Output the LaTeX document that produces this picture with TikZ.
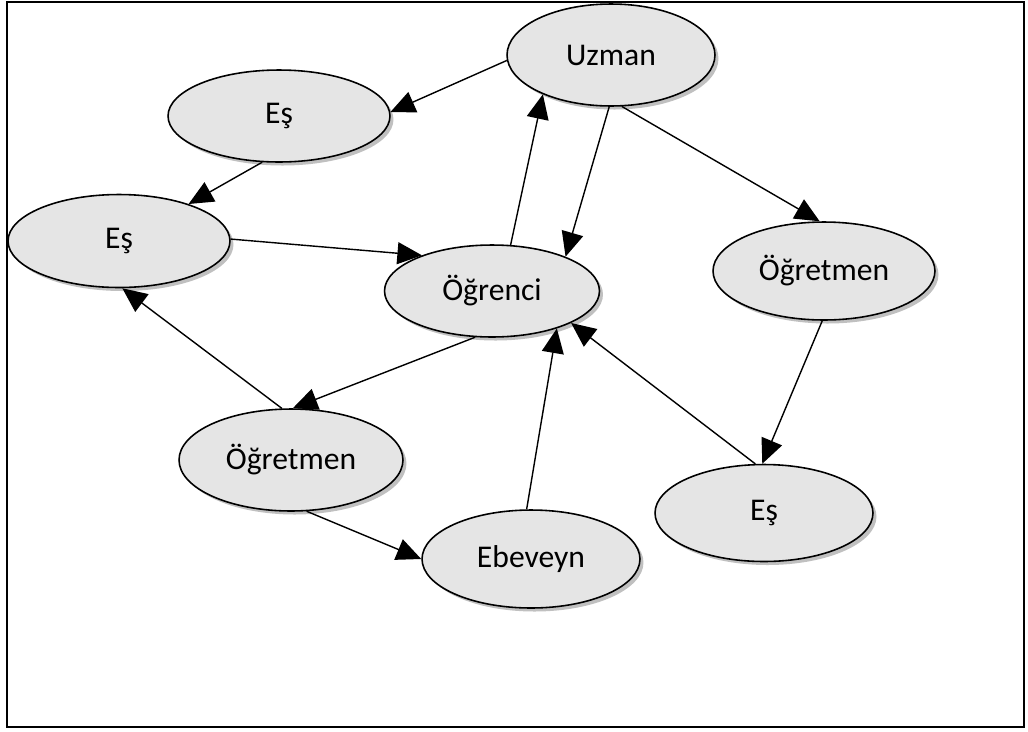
\documentclass[tikz,border=0pt]{standalone}
\usepackage{fontspec}
\setmainfont{Carlito}
\usetikzlibrary{arrows.meta,shapes.geometric,shadows}

\begin{document}
\begin{tikzpicture}[x=0.02cm,y=-0.02cm,>={Triangle[length=14pt,width=12.5pt]},
    bubble/.style={ellipse, draw, line width=0.9pt, fill=black!10, inner sep=0pt,
      minimum width=4.4cm, minimum height=1.92cm,
      drop shadow={shadow xshift=2pt, shadow yshift=-2pt, opacity=0.45, fill=black!55}},
    link/.style={->, line width=0.8pt},
    font=\fontsize{18}{22}\selectfont]
    % Frame
    \useasboundingbox (0,0) rectangle (1028,731);
    \draw[line width=1.1pt] (7,2) rectangle (1024,727);

    % People
    \node[bubble, minimum width=4.16cm, minimum height=2.04cm] (uzman) at (611,55) {Uzman};
    \node[bubble, minimum width=4.44cm, minimum height=1.84cm] (esTop) at (279,116) {Eş};
    \node[bubble, minimum width=4.44cm, minimum height=1.86cm] (esLeft) at (119,241) {Eş};
    \node[bubble, minimum width=4.3cm, minimum height=1.84cm] (ogrenci) at (492,291) {Öğrenci};
    \node[bubble, minimum width=4.44cm, minimum height=1.96cm] (ogretmenR) at (824,271) {Öğretmen};
    \node[bubble, minimum width=4.48cm, minimum height=2.04cm] (ogretmenL) at (291,460) {Öğretmen};
    \node[bubble, minimum width=4.36cm, minimum height=1.96cm] (ebeveyn) at (531,559) {Ebeveyn};
    \node[bubble, minimum width=4.36cm, minimum height=1.94cm] (esRight) at (764,513) {Eş};

    % Links
    \draw[link] (uzman.183) -- (esTop.2);
    \draw[link] (esTop.250) -- (esLeft.28);
    \draw[link] (esLeft.1) -- (ogrenci.153);
    \draw[link] (ogrenci.68) -- (uzman.210);
    \draw[link] (uzman.268) -- (ogrenci.25);
    \draw[link] (uzman.282) -- (ogretmenR.95);
    \draw[link] (ogretmenR.268) -- (esRight.92);
    \draw[link] (esRight.100) -- (ogrenci.338);
    \draw[link] (ebeveyn.95) -- (ogrenci.330);
    \draw[link] (ogrenci.250) -- (ogretmenL.88);
    \draw[link] (ogretmenL.100) -- (esLeft.274);
    \draw[link] (ogretmenL.287) -- (ebeveyn.180);
\end{tikzpicture}
\end{document}
